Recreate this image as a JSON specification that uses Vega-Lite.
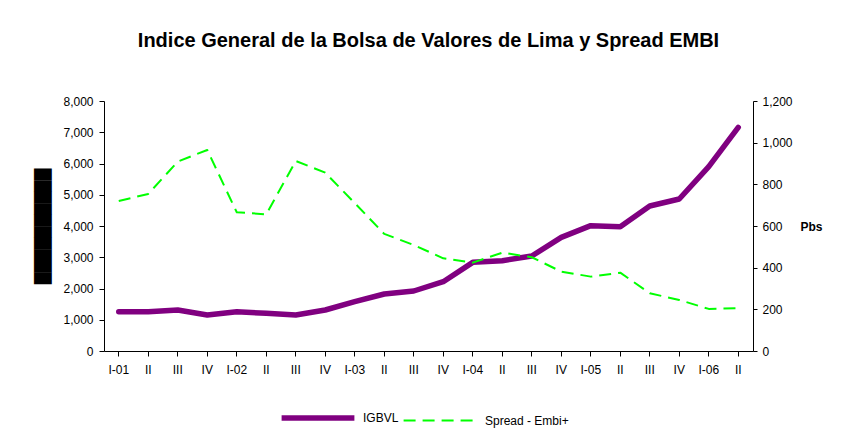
{
  "$schema": "https://vega.github.io/schema/vega-lite/v6.json",
  "width": 649,
  "height": 250,
  "autosize": {"type": "none"},
  "padding": {"left": 104, "top": 101, "right": 88, "bottom": 83},
  "background": "white",
  "config": {
    "view": {"stroke": null},
    "font": "Liberation Sans",
    "axis": {"labelFont": "Liberation Sans", "labelFontSize": 12, "labelColor": "black", "domainColor": "black", "tickColor": "black", "grid": false}
  },
  "title": {
    "text": "Indice General de la Bolsa de Valores de Lima y Spread EMBI",
    "font": "Liberation Sans",
    "fontSize": 20,
    "fontWeight": "bold",
    "color": "black",
    "anchor": "middle",
    "offset": 44
  },
  "data": {
    "values": [
      {"q": "I-01", "series": "IGBVL", "value": 1258},
      {"q": "II-01", "series": "IGBVL", "value": 1258},
      {"q": "III-01", "series": "IGBVL", "value": 1312},
      {"q": "IV-01", "series": "IGBVL", "value": 1152},
      {"q": "I-02", "series": "IGBVL", "value": 1258},
      {"q": "II-02", "series": "IGBVL", "value": 1205},
      {"q": "III-02", "series": "IGBVL", "value": 1152},
      {"q": "IV-02", "series": "IGBVL", "value": 1312},
      {"q": "I-03", "series": "IGBVL", "value": 1578},
      {"q": "II-03", "series": "IGBVL", "value": 1824},
      {"q": "III-03", "series": "IGBVL", "value": 1920},
      {"q": "IV-03", "series": "IGBVL", "value": 2218},
      {"q": "I-04", "series": "IGBVL", "value": 2837},
      {"q": "II-04", "series": "IGBVL", "value": 2890},
      {"q": "III-04", "series": "IGBVL", "value": 3040},
      {"q": "IV-04", "series": "IGBVL", "value": 3637},
      {"q": "I-05", "series": "IGBVL", "value": 4011},
      {"q": "II-05", "series": "IGBVL", "value": 3979},
      {"q": "III-05", "series": "IGBVL", "value": 4640},
      {"q": "IV-05", "series": "IGBVL", "value": 4864},
      {"q": "I-06", "series": "IGBVL", "value": 5898},
      {"q": "II-06", "series": "IGBVL", "value": 7157},
      {"q": "I-01", "series": "Spread - Embi+", "value": 720},
      {"q": "II-01", "series": "Spread - Embi+", "value": 754},
      {"q": "III-01", "series": "Spread - Embi+", "value": 909},
      {"q": "IV-01", "series": "Spread - Embi+", "value": 965},
      {"q": "I-02", "series": "Spread - Embi+", "value": 666},
      {"q": "II-02", "series": "Spread - Embi+", "value": 656},
      {"q": "III-02", "series": "Spread - Embi+", "value": 912},
      {"q": "IV-02", "series": "Spread - Embi+", "value": 856},
      {"q": "I-03", "series": "Spread - Embi+", "value": 710},
      {"q": "II-03", "series": "Spread - Embi+", "value": 562},
      {"q": "III-03", "series": "Spread - Embi+", "value": 509},
      {"q": "IV-03", "series": "Spread - Embi+", "value": 445},
      {"q": "I-04", "series": "Spread - Embi+", "value": 424},
      {"q": "II-04", "series": "Spread - Embi+", "value": 472},
      {"q": "III-04", "series": "Spread - Embi+", "value": 450},
      {"q": "IV-04", "series": "Spread - Embi+", "value": 381},
      {"q": "I-05", "series": "Spread - Embi+", "value": 357},
      {"q": "II-05", "series": "Spread - Embi+", "value": 376},
      {"q": "III-05", "series": "Spread - Embi+", "value": 277},
      {"q": "IV-05", "series": "Spread - Embi+", "value": 245},
      {"q": "I-06", "series": "Spread - Embi+", "value": 202},
      {"q": "II-06", "series": "Spread - Embi+", "value": 205}
    ]
  },
  "encoding": {
    "x": {
      "field": "q",
      "type": "ordinal",
      "scale": {
        "type": "band",
        "paddingInner": 0,
        "paddingOuter": 0,
        "domain": ["I-01","II-01","III-01","IV-01","I-02","II-02","III-02","IV-02","I-03","II-03","III-03","IV-03","I-04","II-04","III-04","IV-04","I-05","II-05","III-05","IV-05","I-06","II-06"]
      },
      "axis": {
        "title": null,
        "labelAngle": 0,
        "tickSize": 5,
        "labelPadding": 8,
        "labelExpr": "datum.value == null ? '' : (indexof('' + datum.value, 'I-') == 0 ? '' + datum.value : split('' + datum.value, '-')[0])"
      }
    },
    "color": {
      "field": "series",
      "type": "nominal",
      "scale": {"domain": ["IGBVL", "Spread - Embi+"], "range": ["#800080", "#00FF00"]},
      "legend": {
        "title": null,
        "orient": "none",
        "direction": "horizontal",
        "legendX": 208,
        "legendY": 311,
        "symbolType": "stroke",
        "symbolSize": 5300,
        "labelFontSize": 12,
        "labelFont": "Liberation Sans",
        "labelColor": "black",
        "labelOffset": 39,
        "columnPadding": 0,
        "encode": {
          "symbols": {
            "update": {
              "strokeDash": {"signal": "datum.value == 'IGBVL' ? [1, 0] : [12, 7]"},
              "strokeWidth": {"signal": "datum.value == 'IGBVL' ? 5.5 : 2"}
            }
          }
        }
      }
    }
  },
  "layer": [
    {
      "transform": [{"filter": "datum.series == 'IGBVL'"}],
      "mark": {"type": "line", "strokeCap": "round", "strokeJoin": "round", "strokeWidth": 5.5},
      "encoding": {
        "y": {
          "field": "value",
          "type": "quantitative",
          "scale": {"domain": [0, 8000], "nice": false},
          "axis": {
            "orient": "left",
            "values": [0,1000,2000,3000,4000,5000,6000,7000,8000],
            "tickSize": 5,
            "labelPadding": 6,
            "title": "██████████",
            "titleFont": "DejaVu Sans",
            "titleFontSize": 15,
            "titleFontWeight": "normal",
            "titleColor": "black",
            "titleAngle": -90,
            "titleAlign": "center",
            "titleBaseline": "middle",
            "titleX": -62,
            "titleY": 125
          }
        }
      }
    },
    {
      "transform": [{"filter": "datum.series == 'Spread - Embi+'"}],
      "mark": {"type": "line", "strokeJoin": "round", "strokeWidth": 2, "strokeDash": [12, 7]},
      "encoding": {
        "y": {
          "field": "value",
          "type": "quantitative",
          "scale": {"domain": [0, 1200], "nice": false},
          "axis": {
            "orient": "right",
            "values": [0,200,400,600,800,1000,1200],
            "tickSize": 4,
            "labelPadding": 5,
            "title": "Pbs",
            "titleFont": "Liberation Sans",
            "titleFontSize": 12,
            "titleFontWeight": "bold",
            "titleColor": "black",
            "titleAngle": 0,
            "titleAlign": "left",
            "titleBaseline": "middle",
            "titleX": 47,
            "titleY": 125
          }
        }
      }
    }
  ],
  "resolve": {"scale": {"y": "independent"}, "axis": {"y": "independent"}}
}
